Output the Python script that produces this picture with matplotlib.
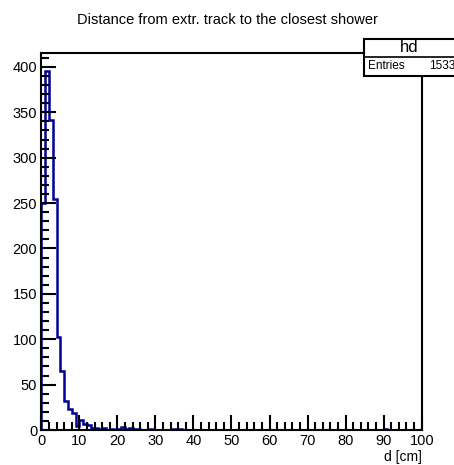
import numpy as np
import matplotlib
matplotlib.use("Agg")
import matplotlib.pyplot as plt
from matplotlib.ticker import MultipleLocator
from matplotlib.patches import Rectangle

plt.rcParams['font.family'] = ['Liberation Sans', 'DejaVu Sans']

# Data: 100 bins of width 1 cm from 0 to 100
bin_edges = np.arange(0, 101, 1)
counts = np.zeros(100)
nonzero = {0: 250, 1: 395, 2: 342, 3: 255, 4: 103, 5: 65, 6: 32, 7: 23, 8: 19,
           9: 4, 10: 11, 11: 7, 12: 5, 13: 2, 14: 2, 15: 1, 16: 2, 18: 1, 20: 1,
           21: 3, 22: 1, 23: 2, 24: 1, 25: 1, 28: 1, 34: 1, 35: 1, 36: 1, 90: 1}
for k, v in nonzero.items():
    counts[k] = v

title = "Distance from extr. track to the closest shower"
xlabel = "d [cm]"
hist_name = "hd"
entries = 1533

W, H = 454, 465
fig = plt.figure(figsize=(W / 100, H / 100), dpi=100)
ax = fig.add_axes([41.3 / W, 1 - 430 / H, (421.7 - 41.3) / W, (430 - 53.3) / H])

ax.stairs(counts, bin_edges, color='#000099', linewidth=1.8)
ax.set_xlim(0, 100)
ax.set_ylim(0, 415)

ax.xaxis.set_major_locator(MultipleLocator(10))
ax.xaxis.set_minor_locator(MultipleLocator(2))
ax.yaxis.set_major_locator(MultipleLocator(50))
ax.yaxis.set_minor_locator(MultipleLocator(10))
ax.tick_params(which='both', direction='in', top=False, right=False, width=1.5, labelsize=10.5, color='black')
ax.tick_params(which='major', length=11, pad=3)
ax.tick_params(which='minor', length=5.5)
for s in ax.spines.values():
    s.set_linewidth(1.5)

ax.set_xlabel(xlabel, fontsize=10, loc='right', labelpad=1)

fig.text(227 / W, 1 - 20 / H, title, ha='center', va='center', fontsize=10.5)

# stat box
x0, x1 = 364 / W, 1.02
y0, y1 = 1 - 75.7 / H, 1 - 39 / H
ym = 1 - 56.7 / H
fig.patches.append(Rectangle((x0, y0), x1 - x0, y1 - y0, transform=fig.transFigure,
                             facecolor='white', edgecolor='black', linewidth=1.5, zorder=10))
fig.lines.append(plt.Line2D([x0, x1], [ym, ym], transform=fig.transFigure, color='black', linewidth=1.2, zorder=11))
fig.text(409 / W, (y1 + ym) / 2, hist_name, ha='center', va='center', fontsize=12, zorder=12)
fig.text(368 / W, (ym + y0) / 2, "Entries", ha='left', va='center', fontsize=8.5, zorder=12)
fig.text(455 / W, (ym + y0) / 2, str(entries), ha='right', va='center', fontsize=8.5, zorder=12)

fig.savefig("out.png", dpi=100)
